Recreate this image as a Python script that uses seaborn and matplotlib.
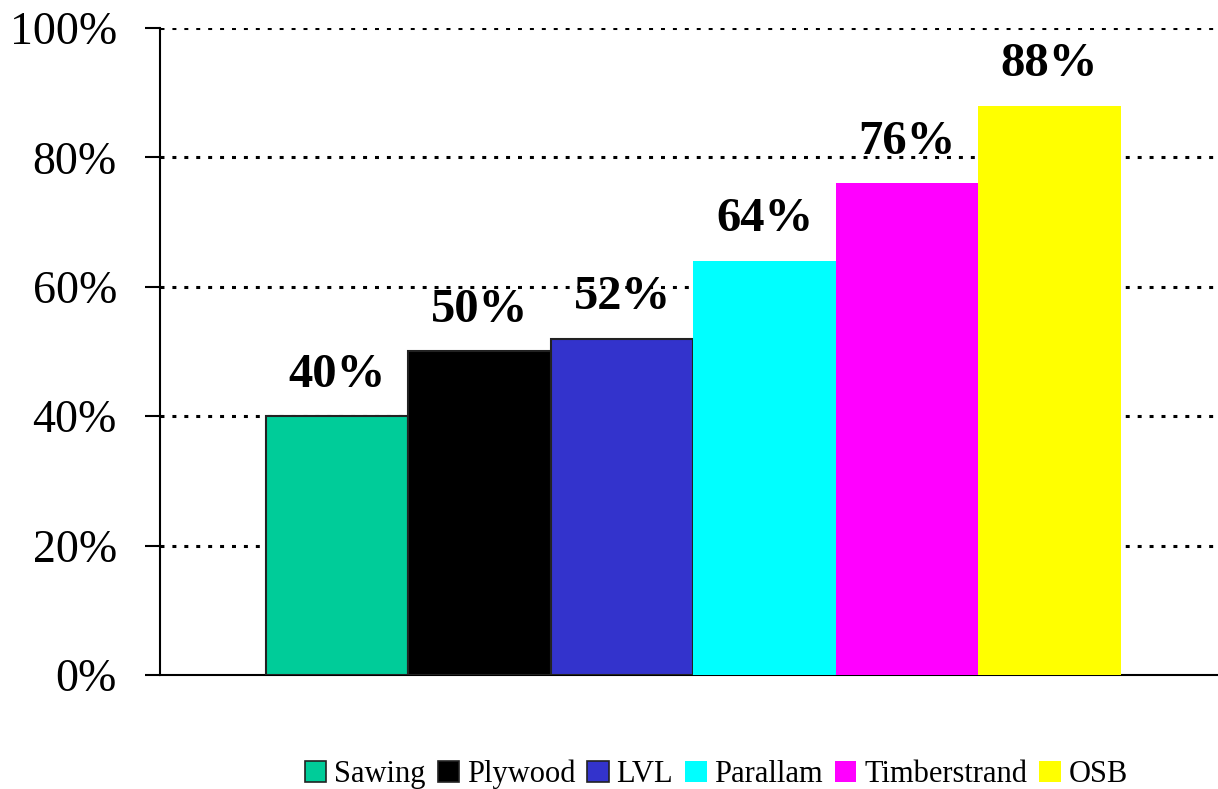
import pandas as pd
import matplotlib.pyplot as plt
import seaborn as sns
from matplotlib.ticker import FuncFormatter

# chart data
products = ['Sawing', 'Plywood', 'LVL', 'Parallam', 'Timberstrand', 'OSB']
recovery = [40, 50, 52, 64, 76, 88]
colors = ['#00CC99', '#000000', '#3333CC', '#00FFFF', '#FF00FF', '#FFFF00']
yticks = [0, 20, 40, 60, 80, 100]

df = pd.DataFrame({'group': [''] * len(products), 'product': products, 'value': recovery})

sns.set_style('white')
plt.rcParams['font.family'] = ['Liberation Serif', 'DejaVu Serif']
plt.rcParams['text.color'] = 'black'
plt.rcParams['ytick.color'] = 'black'
plt.rcParams['ytick.labelcolor'] = 'black'

fig = plt.figure(figsize=(12.18, 7.89), dpi=100)
ax = fig.add_axes([0.1314, 0.1445, 0.8686, 0.82])

sns.barplot(data=df, x='group', y='value', hue='product', hue_order=products,
            palette=colors, saturation=1, width=0.8, dodge=True, ax=ax, zorder=3)

# outlines only on the first three bars, like the original
for i, cont in enumerate(ax.containers):
    for p in cont:
        if i < 3:
            p.set_edgecolor('#222222')
            p.set_linewidth(1.5)
        else:
            p.set_edgecolor('none')
    ax.bar_label(cont, labels=[f'{recovery[i]}%'], padding=14,
                 fontsize=35, fontweight='bold', color='black')

ax.set_ylim(0, 100)
ax.set_xlim(-0.499, 0.491)
ax.set_yticks(yticks)
ax.yaxis.set_major_formatter(FuncFormatter(lambda v, _: f'{v:.0f}%'))
ax.tick_params(axis='y', labelsize=33, length=11, width=1.5, direction='out',
               left=True, pad=20, colors='black')
ax.tick_params(axis='x', bottom=False, labelbottom=False)
ax.set_xlabel('')
ax.set_ylabel('')

for y in yticks[1:]:
    ax.axhline(y, color='black', linestyle=(0, (1.3, 2.6)), linewidth=2.2, zorder=1)

for s in ['top', 'right']:
    ax.spines[s].set_visible(False)
ax.spines['left'].set_linewidth(1.5)
ax.spines['bottom'].set_linewidth(1.5)
ax.spines['left'].set_color('black')
ax.spines['bottom'].set_color('black')

handles, labels = ax.get_legend_handles_labels()
ax.legend_.remove()
for i, h in enumerate(handles):
    if i < 3:
        h.set_edgecolor('#222222')
        h.set_linewidth(1.2)
    else:
        h.set_edgecolor('none')
fig.legend(handles, labels, loc='lower center', bbox_to_anchor=(0.588, -0.035),
           ncol=6, frameon=False, fontsize=22, handlelength=0.7,
           handleheight=0.7, handletextpad=0.25, columnspacing=0.4)

fig.savefig('out.png', dpi=100)
